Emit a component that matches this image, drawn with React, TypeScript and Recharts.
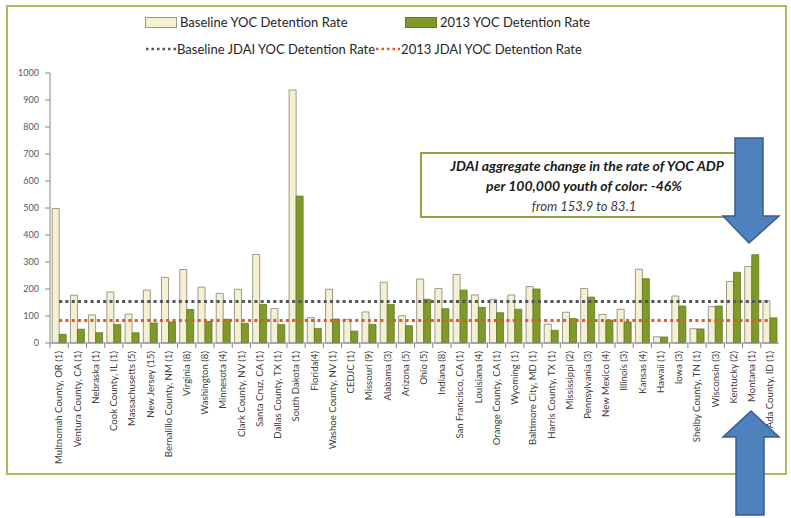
import React from "react";
import { BarChart, Bar, XAxis, YAxis, ReferenceLine } from "recharts";

const categories = [
  "Multnomah County, OR (1)", "Ventura County, CA (1)", "Nebraska (1)", "Cook County, IL (1)",
  "Massachusetts (5)", "New Jersey (15)", "Bernalillo County, NM (1)", "Virginia (8)",
  "Washington (8)", "Minnesota (4)", "Clark County, NV (1)", "Santa Cruz, CA (1)",
  "Dallas County, TX (1)", "South Dakota (1)", "Florida(4)", "Washoe County, NV (1)",
  "CEDJC (1)", "Missouri (9)", "Alabama (3)", "Arizona (5)", "Ohio (5)", "Indiana (8)",
  "San Francisco, CA (1)", "Louisiana (4)", "Orange County, CA (1)", "Wyoming (1)",
  "Baltimore City, MD (1)", "Harris County, TX (1)", "Mississippi (2)", "Pennsylvania (3)",
  "New Mexico (4)", "Illinois (3)", "Kansas (4)", "Hawaii (1)", "Iowa (3)",
  "Shelby County, TN (1)", "Wisconsin (3)", "Kentucky (2)", "Montana (1)", "Ada County, ID (1)",
];

const baselineRates = [
  498, 177, 104, 189, 107, 196, 243, 272, 207, 184, 199, 328, 128, 937, 94, 199, 88, 115, 225, 101,
  237, 202, 254, 178, 162, 178, 209, 70, 114, 202, 106, 125, 273, 23, 174, 53, 135, 228, 283, 156,
];

const rates2013 = [
  32, 51, 38, 68, 38, 74, 78, 124, 80, 88, 73, 143, 68, 544, 54, 89, 44, 69, 143, 64,
  162, 127, 196, 132, 112, 125, 200, 47, 91, 170, 85, 78, 238, 22, 137, 52, 137, 262, 327, 93,
];

const yTicks = [0, 100, 200, 300, 400, 500, 600, 700, 800, 900, 1000];
const baselineJDAI = 153.9;
const jdai2013 = 83.1;

const seriesNames = {
  baseline: "Baseline YOC Detention Rate",
  recent: "2013 YOC Detention Rate",
  baseJdai: "Baseline JDAI YOC Detention Rate",
  recentJdai: "2013 JDAI YOC Detention Rate",
};

const CREAM = "#f6f0d3";
const CREAM_STROKE = "#9a9a8a";
const GREEN = "#7f9a2b";
const GREEN_STROKE = "#627a1c";
const GRAY_DOT = "#555555";
const RED_DOT = "#e4572a";
const FONT = "Lato, 'Liberation Sans', sans-serif";

const data = categories.map((name, i) => ({
  name,
  baseline: baselineRates[i],
  recent: rates2013[i],
}));

const XTick = (props: any) => {
  const { x, y, payload } = props;
  const off = payload.offset || 0;
  return (
    <g>
      <line x1={x - off} x2={x - off} y1={y - 8} y2={y - 3} stroke="#868686" strokeWidth={1} />
      <text
        x={x}
        y={y}
        dy="0.35em"
        textAnchor="end"
        transform={`rotate(-90, ${x}, ${y})`}
        fontSize={9.6}
        fill="#404040"
        fontFamily={FONT}
      >
        {payload.value}
      </text>
    </g>
  );
};

const Legend = () => (
  <div style={{ position: "absolute", left: 0, top: 0, width: 791, fontFamily: FONT, fontSize: 13, color: "#262626" }}>
    <div style={{ position: "absolute", left: 145, top: 14, display: "flex", alignItems: "center", whiteSpace: "nowrap" }}>
      <span style={{ display: "inline-block", width: 30, height: 9, background: CREAM, border: `1px solid ${CREAM_STROKE}`, marginRight: 3 }} />
      <span>{seriesNames.baseline}</span>
    </div>
    <div style={{ position: "absolute", left: 405, top: 14, display: "flex", alignItems: "center", whiteSpace: "nowrap" }}>
      <span style={{ display: "inline-block", width: 30, height: 9, background: GREEN, border: `1px solid ${GREEN_STROKE}`, marginRight: 3 }} />
      <span>{seriesNames.recent}</span>
    </div>
    <div style={{ position: "absolute", left: 145, top: 41, display: "flex", alignItems: "center", whiteSpace: "nowrap" }}>
      <svg width={32} height={4}><line x1={1} x2={31} y1={2} y2={2} stroke={GRAY_DOT} strokeWidth={2.5} strokeDasharray="2.5 3" /></svg>
      <span>{seriesNames.baseJdai}</span>
      <svg width={26} height={4}><line x1={1} x2={25} y1={2} y2={2} stroke={RED_DOT} strokeWidth={2.5} strokeDasharray="2.5 3" /></svg>
      <span>{seriesNames.recentJdai}</span>
    </div>
  </div>
);

export default function App() {
  return (
    <div style={{ position: "absolute", left: 0, top: 0, width: 791, height: 518, background: "#ffffff", overflow: "hidden" }}>
      <div style={{ position: "absolute", left: 6, top: 5, width: 781, height: 470, border: "2px solid #a4bd5e", boxSizing: "border-box" }} />
      <div style={{ position: "absolute", left: 0, top: 0 }}>
        <BarChart
          width={791}
          height={518}
          data={data}
          margin={{ top: 73, right: 12, bottom: 55, left: 0 }}
          barCategoryGap="12%"
          barGap={0}
        >
          <XAxis
            dataKey="name"
            interval={0}
            height={120}
            tick={<XTick />}
            tickLine={false}
            axisLine={{ stroke: "#868686" }}
          />
          <YAxis
            domain={[0, 1000]}
            ticks={yTicks}
            width={50}
            tick={{ fontSize: 9, fill: "#595959", fontFamily: FONT }}
            tickSize={5}
            tickMargin={6}
            axisLine={{ stroke: "#868686" }}
            tickLine={{ stroke: "#868686" }}
          />
          <Bar dataKey="baseline" name={seriesNames.baseline} fill={CREAM} stroke={CREAM_STROKE} strokeWidth={1} isAnimationActive={false} />
          <Bar dataKey="recent" name={seriesNames.recent} fill={GREEN} stroke={GREEN_STROKE} strokeWidth={0.8} isAnimationActive={false} />
          <ReferenceLine
            segment={[{ x: categories[0], y: baselineJDAI }, { x: categories[categories.length - 1], y: baselineJDAI }]}
            stroke={GRAY_DOT}
            strokeWidth={3}
            strokeDasharray="3 3.3"
          />
          <ReferenceLine
            segment={[{ x: categories[0], y: jdai2013 }, { x: categories[categories.length - 1], y: jdai2013 }]}
            stroke={RED_DOT}
            strokeWidth={3}
            strokeDasharray="3 3.3"
          />
        </BarChart>
      </div>
      <Legend />
      <div
        style={{
          position: "absolute",
          left: 420,
          top: 152,
          width: 328,
          height: 66,
          border: "2px solid #8ea642",
          boxSizing: "border-box",
          background: "#ffffff",
          fontFamily: FONT,
          textAlign: "center",
          color: "#1a1a1a",
          lineHeight: "20px",
          paddingTop: 2,
        }}
      >
        <div style={{ fontWeight: 700, fontStyle: "italic", fontSize: 14, whiteSpace: "nowrap", marginLeft: 6 }}>
          JDAI aggregate change in the rate of YOC ADP
        </div>
        <div style={{ fontWeight: 700, fontStyle: "italic", fontSize: 14 }}>per 100,000 youth of color: -46%</div>
        <div style={{ fontStyle: "italic", fontSize: 13, color: "#3a3a3a" }}>from 153.9 to 83.1</div>
      </div>
      <svg width={791} height={518} style={{ position: "absolute", left: 0, top: 0, pointerEvents: "none" }}>
        <polygon
          points="735,138 763,138 763,216 779,216 749,243 723,216 735,216"
          fill="#4f81bd"
          stroke="#385d8a"
          strokeWidth={1.5}
        />
        <polygon
          points="751,411 779,437 764,437 764,515 736,515 736,437 723,437"
          fill="#4f81bd"
          stroke="#385d8a"
          strokeWidth={1.5}
        />
      </svg>
    </div>
  );
}
